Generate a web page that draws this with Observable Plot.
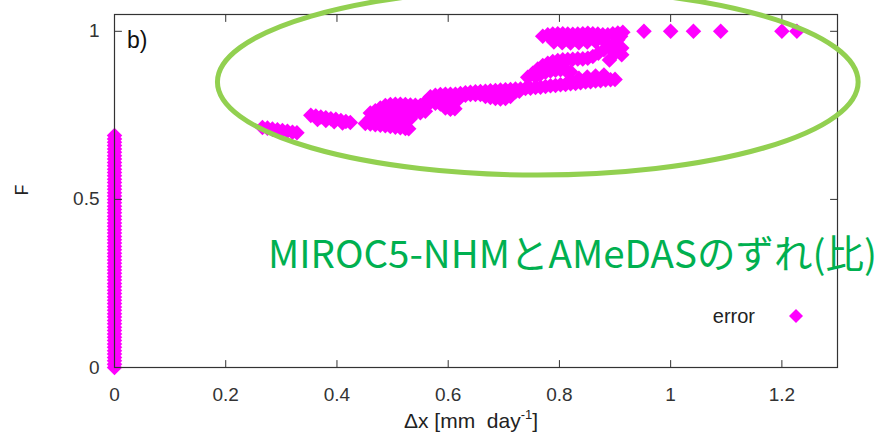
<!DOCTYPE html>
<html><head><meta charset="utf-8">
<script src="https://cdn.jsdelivr.net/npm/d3@7"></script>
<script src="https://cdn.jsdelivr.net/npm/@observablehq/plot@0.6"></script>
<style>
html,body{margin:0;padding:0;background:#fff;overflow:hidden}
#chart{width:895px;height:435px}
</style>
</head><body><div id="chart"></div>
<script>
// ---- data ----
const stripX = 0;
const stripF = [0,.01,.02,.03,.04,.05,.06,.07,.08,.09,.10,.11,.12,.13,.14,.15,.16,.17,.18,.19,
  .20,.21,.22,.23,.24,.25,.26,.27,.28,.29,.30,.31,.32,.33,.34,.35,.36,.37,.38,.39,
  .40,.41,.42,.43,.44,.45,.46,.47,.48,.49,.50,.51,.52,.53,.54,.55,.56,.57,.58,.59,
  .60,.61,.62,.63,.64,.65,.66,.67,.68,.69];

const clusterX = [
  .266,.275,.284,.293,.302,.311,.320,.328,
  .353,.362,.371,.380,.389,.398,.407,.416,.424,
  .365,.380,.395,.410,
  .451,.460,.469,.478,.487,.496,.505,.514,.523,.529,
  .460,.469,.478,.487,.496,.505,.514,.523,.532,
  .460,.469,.478,.487,.496,.505,.514,.523,.532,.541,.550,
  .487,.496,.505,.514,.523,.532,.541,.550,.559,
  .568,.577,.586,.595,.604,.613,
  .568,.577,.586,.595,.604,.613,.620,
  .559,.568,.577,.586,.595,.604,
  .595,.604,.612,
  .622,.631,.640,.649,.658,.667,.676,.685,.694,.703,.712,.721,
  .622,.631,.640,.649,.658,.667,.676,.685,.694,.703,.712,.721,.728,
  .667,.676,.685,.694,.703,.712,
  .730,.739,.748,.757,.766,.775,.784,.793,.802,.811,.820,.829,.838,.847,.856,.865,.874,.883,.892,.900,
  .820,.835,.850,.865,.880,
  .743,.752,.761,.770,.779,.788,.797,.806,.815,.824,.833,.842,.851,
  .757,.766,.775,.784,.793,.802,.811,.820,
  .860,.870,.880,.890,.900,.905,.910,.900,.890,.912,.912,
  .770,.779,.788,.797,.806,.815,.824,.833,.842,.851,.860,.869,.878,.887,.896,.905,.914,
  .785,.800,.815,.830,.845,.860,
  .790,.805,.820,.835,.850,.865,.880,
  .952,1.0,1.041,1.09,1.2,1.227
];
const clusterF = [
  .714,.712,.709,.707,.705,.703,.700,.698,
  .750,.748,.745,.743,.740,.738,.735,.732,.729,
  .738,.735,.731,.727,
  .726,.724,.722,.721,.719,.717,.715,.713,.711,.710,
  .740,.742,.744,.745,.745,.745,.744,.742,.740,
  .757,.764,.772,.779,.782,.783,.783,.782,.781,.780,.779,
  .752,.755,.758,.760,.761,.760,.759,.758,.762,
  .805,.810,.812,.813,.813,.813,
  .798,.800,.798,.796,.795,.797,.800,
  .790,.788,.786,.784,.782,.785,
  .772,.768,.770,
  .815,.817,.819,.820,.821,.822,.823,.824,.825,.826,.827,.828,
  .808,.810,.812,.812,.812,.812,.812,.812,.813,.815,.818,.820,.822,
  .806,.803,.800,.799,.800,.806,
  .828,.830,.831,.833,.834,.836,.838,.839,.841,.842,.844,.845,.847,.849,.850,.852,.853,.855,.856,.857,
  .855,.860,.864,.867,.870,
  .863,.875,.888,.898,.905,.910,.913,.915,.916,.917,.918,.918,.920,
  .865,.872,.878,.882,.884,.886,.884,.880,
  .925,.935,.945,.955,.965,.975,.985,.935,.915,.950,.930,
  .985,.990,.992,.993,.993,.992,.991,.992,.993,.994,.993,.992,.990,.990,.993,.995,.997,
  .978,.976,.975,.975,.978,.980,
  .968,.966,.965,.966,.968,.970,.972,
  1,1,1,1,1,1
];

const xTicks = [0,0.2,0.4,0.6,0.8,1,1.2];
const xTickLabels = ["0","0.2","0.4","0.6","0.8","1","1.2"];
const yTicks = [0,0.5,1];
const yTickLabels = ["0","0.5","1"];
const seriesName = "error";
const panelLabel = "b)";
const yLabel = "F";
const xLabelMain = "\u0394x [mm  day";
const xLabelSup = "-1";
const xLabelEnd = "]";
const annotationText = "MIROC5-NHMとAMeDASのずれ(比)";
// annotation ellipse (data units): center x, center F, half-width, half-height
const ellipseCX = 0.762, ellipseCF = 0.848, ellipseRX = 0.576, ellipseRF = 0.277;

// ---- build ----
const points = [
  ...stripF.map(f => ({x: stripX, f})),
  ...clusterX.map((x, i) => ({x, f: clusterF[i]}))
];

const FONT = "'Liberation Sans', Arial, sans-serif";
const AXIS = "#333";
const tickShape = {draw(context, l) { context.moveTo(0, 0); context.lineTo(0, -l); }};

const plot = Plot.plot({
  width: 895, height: 435,
  marginLeft: 114, marginRight: 58, marginTop: 14, marginBottom: 68,
  style: {fontFamily: FONT, fontSize: "19px", color: AXIS, background: "#fff"},
  x: {domain: [0, 1.3]},
  y: {domain: [0, 1.05]},
  marks: [
    Plot.dot(points, {x: "x", y: "f", symbol: "diamond2", fill: "#ff00ff", r: 7}),
    Plot.axisX(xTicks, {anchor: "bottom", tickSize: 0, tickPadding: 20, fontSize: 19, fill: AXIS,
      tickFormat: d => xTickLabels[xTicks.indexOf(d)], label: null}),
    Plot.axisY(yTicks, {anchor: "left", tickSize: 0, tickPadding: 15, fontSize: 19, fill: AXIS,
      tickFormat: d => yTickLabels[yTicks.indexOf(d)], label: null}),
    Plot.vector(xTicks, {x: d => d, frameAnchor: "bottom", length: 7, anchor: "start", rotate: 0, shape: tickShape, stroke: AXIS, strokeWidth: 1}),
    Plot.vector(xTicks, {x: d => d, frameAnchor: "top", length: 7, anchor: "start", rotate: 180, shape: tickShape, stroke: AXIS, strokeWidth: 1}),
    Plot.vector(yTicks, {y: d => d, frameAnchor: "left", length: 7, anchor: "start", rotate: 90, shape: tickShape, stroke: AXIS, strokeWidth: 1}),
    Plot.vector(yTicks, {y: d => d, frameAnchor: "right", length: 7, anchor: "start", rotate: -90, shape: tickShape, stroke: AXIS, strokeWidth: 1}),
    Plot.frame({stroke: AXIS, strokeWidth: 1.2})
  ]
});

document.getElementById("chart").appendChild(plot);

// ---- overlay texts / annotations ----
const svg = d3.select(plot);
const sx = plot.scale("x"), sy = plot.scale("y");

// panel label
svg.append("text").attr("x", 127).attr("y", 48).attr("text-anchor", "start")
  .attr("font-family", FONT).attr("font-size", 23).attr("fill", "#111").text(panelLabel);

// y label
svg.append("text").attr("transform", "translate(28,190) rotate(-90)")
  .attr("text-anchor", "middle").attr("font-family", FONT).attr("font-size", 18).attr("fill", "#222").text(yLabel);

// x label with superscript
const xl = svg.append("text").attr("x", 471).attr("y", 428).attr("text-anchor", "middle")
  .attr("font-family", FONT).attr("font-size", 21).attr("fill", "#222").style("white-space", "pre");
xl.append("tspan").text(xLabelMain);
xl.append("tspan").attr("font-size", 13).attr("dy", -9).text(xLabelSup);
xl.append("tspan").attr("dy", 9).text(xLabelEnd);

// legend
svg.append("text").attr("x", 755).attr("y", 316).attr("text-anchor", "end").attr("dominant-baseline", "central")
  .attr("font-family", FONT).attr("font-size", 20).attr("fill", "#222").text(seriesName);
svg.append("path").attr("transform", "translate(796,316)")
  .attr("d", d3.symbol(d3.symbolDiamond2, Math.PI * 6.3 * 6.3)()).attr("fill", "#ff00ff");

// ellipse annotation
const cx = sx.apply(ellipseCX), cy = sy.apply(ellipseCF);
svg.append("ellipse").attr("cx", cx).attr("cy", cy)
  .attr("rx", sx.apply(ellipseCX + ellipseRX) - cx)
  .attr("ry", cy - sy.apply(ellipseCF + ellipseRF))
  .attr("fill", "none").attr("stroke", "#92d050").attr("stroke-width", 5);

// green annotation text (fits inside the page at its natural width)
svg.append("text").attr("x", 268).attr("y", 268).attr("text-anchor", "start")
  .attr("font-family", "'Noto Sans CJK JP', sans-serif").attr("font-size", 38.5)
  .attr("fill", "#00b050")
  .text(annotationText);
</script>
</body></html>
